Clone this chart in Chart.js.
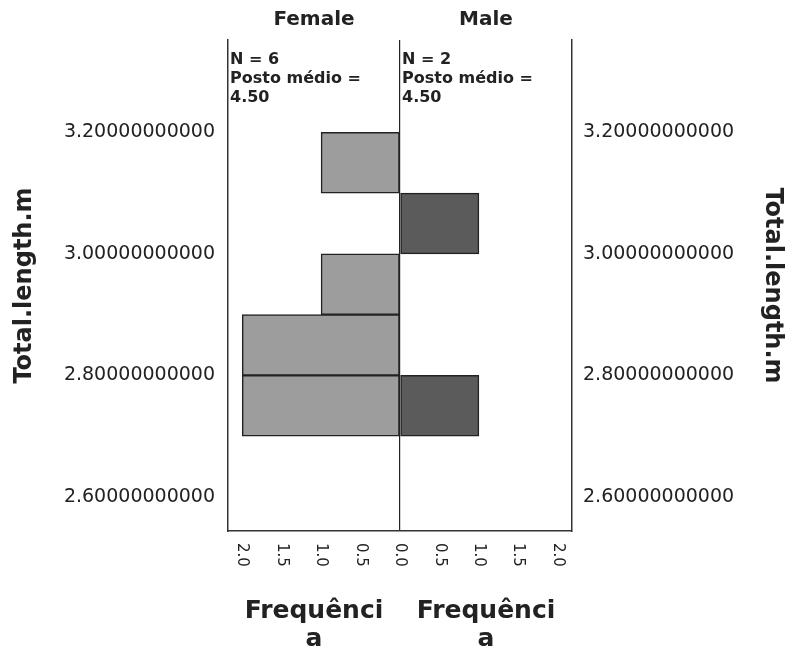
<!DOCTYPE html>
<html>
<head>
<meta charset="utf-8">
<script src="https://cdn.jsdelivr.net/npm/chart.js@4/dist/chart.umd.min.js"></script>
<style>
  html, body { margin: 0; padding: 0; background: #fff; }
  #wrap { width: 792px; height: 653px; }
</style>
</head>
<body>
<div id="wrap"><canvas id="pyramid"></canvas></div>
<script>
// bin centres of Total.length.m (bin width 0.1)
const bins = [2.75, 2.85, 2.95, 3.05, 3.15];
const femaleCounts = [2, 2, 1, 0, 1];
const maleCounts = [1, 0, 0, 1, 0];
const yTicks = [2.6, 2.8, 3.0, 3.2];
const groups = ['Female', 'Male'];
const groupN = [6, 2];
const meanRank = ['4.50', '4.50'];
const freqTitle = ['Frequênci', 'a'];

const font = 'DejaVu Sans';
const ink = '#222';

const toPoints = (counts, sign) => bins.map((b, i) => ({ y: b, x: counts[i] ? sign * counts[i] : null }));

const sidePanels = {
  id: 'sidePanels',
  afterDraw(chart) {
    const { ctx, chartArea, scales } = chart;
    const xs = scales.x;
    const zero = xs.getPixelForValue(0);
    const centres = [(chartArea.left + zero) / 2, (zero + chartArea.right) / 2];
    const starts = [chartArea.left, zero];
    ctx.save();
    ctx.fillStyle = ink;

    // panel headings
    ctx.font = 'bold 20px ' + font;
    ctx.textAlign = 'center';
    ctx.textBaseline = 'middle';
    groups.forEach((g, i) => ctx.fillText(g, centres[i], 20));

    // N / mean rank notes
    ctx.font = 'bold 16px ' + font;
    ctx.textAlign = 'left';
    ctx.textBaseline = 'top';
    groups.forEach((g, i) => {
      const x = starts[i] + 2;
      ctx.fillText('N = ' + groupN[i], x, chartArea.top + 12);
      ctx.fillText('Posto médio =', x, chartArea.top + 31);
      ctx.fillText(meanRank[i], x, chartArea.top + 50);
    });

    // frequency ticks, rotated clockwise
    ctx.font = '15px ' + font;
    ctx.textBaseline = 'middle';
    xs.ticks.forEach((t, i) => {
      const px = xs.getPixelForTick(i);
      ctx.save();
      ctx.translate(px, chartArea.bottom + 12);
      ctx.rotate(Math.PI / 2);
      ctx.fillText(Math.abs(t.value).toFixed(1), 0, 0);
      ctx.restore();
    });

    // frequency titles
    ctx.font = 'bold 25px ' + font;
    ctx.textAlign = 'center';
    ctx.textBaseline = 'middle';
    centres.forEach(cx => {
      freqTitle.forEach((line, j) => ctx.fillText(line, cx, chartArea.bottom + 80 + j * 28));
    });
    ctx.restore();
  }
};

const yTickOpts = {
  color: ink,
  font: { family: font, size: 19 },
  callback: v => Number(v).toFixed(11)
};

new Chart(document.getElementById('pyramid'), {
  type: 'bar',
  data: {
    datasets: [{
      label: 'Female',
      data: toPoints(femaleCounts, -1),
      backgroundColor: '#9d9d9d',
      borderColor: ink,
      borderWidth: 1.5,
      borderSkipped: false,
      stack: 'all'
    }, {
      label: 'Male',
      data: toPoints(maleCounts, 1),
      backgroundColor: '#5b5b5b',
      borderColor: ink,
      borderWidth: 1.5,
      borderSkipped: false,
      stack: 'all'
    }]
  },
  options: {
    indexAxis: 'y',
    responsive: true,
    maintainAspectRatio: false,
    animation: false,
    barPercentage: 1,
    categoryPercentage: 1,
    layout: { padding: { top: 40, left: 0, right: 0, bottom: 0 } },
    plugins: {
      legend: { display: false },
      tooltip: { enabled: false }
    },
    scales: {
      x: {
        type: 'linear',
        stacked: true,
        min: -2.18,
        max: 2.18,
        ticks: { display: false, stepSize: 0.5, includeBounds: false },
        grid: {
          drawTicks: false,
          lineWidth: 1.2,
          color: c => (c.tick && c.tick.value === 0) ? ink : 'rgba(0,0,0,0)'
        },
        border: { display: true, color: '#333', width: 1.5 },
        afterFit: s => { s.height = 122; }
      },
      y: {
        type: 'linear',
        position: 'left',
        stacked: true,
        offset: false,
        min: 2.544,
        max: 3.352,
        afterBuildTicks: s => { s.ticks = yTicks.map(v => ({ value: v })); },
        ticks: Object.assign({ padding: 13 }, yTickOpts),
        grid: { display: false, drawTicks: false, offset: false },
        border: { display: true, color: '#333', width: 1.5 },
        title: {
          display: true,
          text: 'Total.length.m',
          color: ink,
          font: { family: font, size: 24, weight: 'bold' },
          padding: { top: 10, bottom: 0 }
        },
        afterFit: s => { s.width = 228; }
      },
      y2: {
        type: 'linear',
        position: 'right',
        offset: false,
        min: 2.544,
        max: 3.352,
        afterBuildTicks: s => { s.ticks = yTicks.map(v => ({ value: v })); },
        ticks: Object.assign({ padding: 11 }, yTickOpts),
        grid: { display: false, drawTicks: false, offset: false },
        border: { display: true, color: '#333', width: 1.5 },
        title: {
          display: true,
          text: 'Total.length.m',
          color: ink,
          font: { family: font, size: 24, weight: 'bold' },
          padding: { top: 5, bottom: 0 }
        },
        afterFit: s => { s.width = 220; }
      }
    }
  },
  plugins: [sidePanels]
});
</script>
</body>
</html>
